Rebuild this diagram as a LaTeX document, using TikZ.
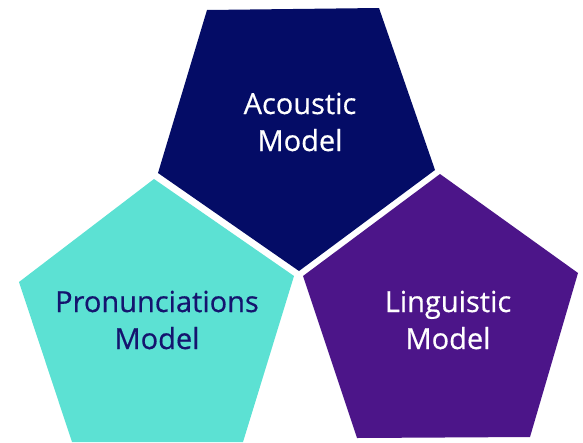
\documentclass[tikz,border=0pt]{standalone}
\usepackage{fontspec}
\setmainfont{Open Sans}
\newfontfamily\lblfont[FakeBold=0.5]{Open Sans}
\definecolor{navy}{HTML}{040C66}
\definecolor{aqua}{HTML}{5CE1D3}
\definecolor{violet}{HTML}{4C1589}
\definecolor{inktext}{HTML}{15146E}
\begin{document}
\begin{tikzpicture}[x=1pt,y=-1pt,
  lbl/.style={align=center,font=\lblfont\fontsize{29}{37}\selectfont,inner sep=0pt}]
\useasboundingbox (0,0) rectangle (583,442);
\fill[navy] (207,10) -- (379,8) -- (435,170) -- (299,271) -- (158,173) -- cycle;
\fill[aqua] (154,179) -- (294,276) -- (243,442) -- (72,442) -- (19,282) -- cycle;
\fill[violet] (440,174) -- (578,273) -- (530,437) -- (357,438) -- (303,276) -- cycle;
\node[lbl,text=white] (acoustic) at (300,122) {Acoustic\\Model};
\node[lbl,text=inktext] (pron) at (157,320) {Pronunciations\\Model};
\node[lbl,text=white] (ling) at (448,320) {Linguistic\\Model};
\end{tikzpicture}
\end{document}
